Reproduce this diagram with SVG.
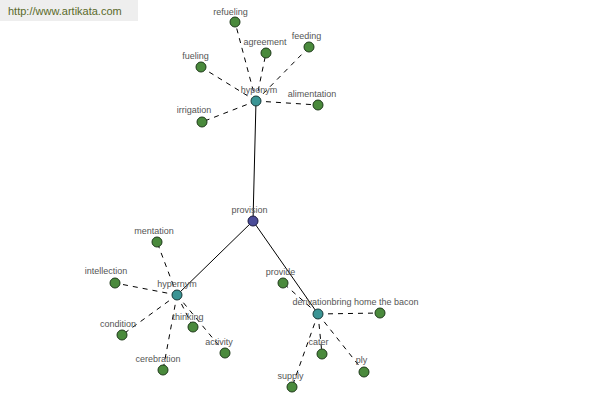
<svg xmlns="http://www.w3.org/2000/svg" width="600" height="400" viewBox="0 0 600 400">
<style>
.lbl{font-family:"Liberation Sans",Arial,sans-serif;font-size:9px;fill:#555;text-anchor:middle}
.leaf{fill:#4a8a3c;stroke:#1e3a1a;stroke-width:1}
.hub{fill:#3a9494;stroke:#1a3a3a;stroke-width:1}
.root{fill:#4a4c98;stroke:#1a1a40;stroke-width:1}
.solid{stroke:#000;stroke-width:1;fill:none}
.dash{stroke:#000;stroke-width:1;fill:none;stroke-dasharray:5 5}
</style>
<rect x="0" y="0" width="138" height="21" fill="#eeeeee"/>
<text x="8" y="15" font-family="'Liberation Sans',Arial,sans-serif" font-size="11" fill="#5a6a2a">http://www.artikata.com</text>
<g id="connectors">
<line class="solid" x1="256" y1="101" x2="253" y2="221"/>
<line class="solid" x1="253" y1="221" x2="177" y2="295"/>
<line class="solid" x1="253" y1="221" x2="318" y2="314"/>
<line class="dash" x1="256" y1="101" x2="235" y2="22"/>
<line class="dash" x1="256" y1="101" x2="266" y2="53"/>
<line class="dash" x1="256" y1="101" x2="309" y2="47"/>
<line class="dash" x1="256" y1="101" x2="201" y2="67"/>
<line class="dash" x1="256" y1="101" x2="318" y2="105"/>
<line class="dash" x1="256" y1="101" x2="202" y2="122"/>
<line class="dash" x1="177" y1="295" x2="157" y2="242"/>
<line class="dash" x1="177" y1="295" x2="115" y2="283"/>
<line class="dash" x1="177" y1="295" x2="122" y2="335"/>
<line class="dash" x1="177" y1="295" x2="193" y2="327"/>
<line class="dash" x1="177" y1="295" x2="225" y2="353"/>
<line class="dash" x1="177" y1="295" x2="163" y2="370"/>
<line class="dash" x1="318" y1="314" x2="283" y2="283"/>
<line class="dash" x1="318" y1="314" x2="380" y2="313"/>
<line class="dash" x1="318" y1="314" x2="322" y2="354"/>
<line class="dash" x1="318" y1="314" x2="364" y2="372"/>
<line class="dash" x1="318" y1="314" x2="292" y2="387"/>
</g>
<g id="n-provision"><circle class="root" cx="253" cy="221" r="5"/><text class="lbl" x="249.5" y="213">provision</text></g>
<g id="n-hyponym"><circle class="hub" cx="256" cy="101" r="5"/><text class="lbl" x="259" y="93">hyponym</text></g>
<g id="n-hypernym"><circle class="hub" cx="177" cy="295" r="5"/><text class="lbl" x="177" y="287">hypernym</text></g>
<g id="n-derivation"><circle class="hub" cx="318" cy="314" r="5"/><text class="lbl" x="312" y="305">derivation</text></g>
<g id="n-refueling"><circle class="leaf" cx="235" cy="22" r="5"/><text class="lbl" x="230.5" y="15">refueling</text></g>
<g id="n-agreement"><circle class="leaf" cx="266" cy="53" r="5"/><text class="lbl" x="265" y="45">agreement</text></g>
<g id="n-feeding"><circle class="leaf" cx="309" cy="47" r="5"/><text class="lbl" x="306.5" y="39">feeding</text></g>
<g id="n-fueling"><circle class="leaf" cx="201" cy="67" r="5"/><text class="lbl" x="195.5" y="59">fueling</text></g>
<g id="n-alimentation"><circle class="leaf" cx="318" cy="105" r="5"/><text class="lbl" x="312" y="97">alimentation</text></g>
<g id="n-irrigation"><circle class="leaf" cx="202" cy="122" r="5"/><text class="lbl" x="194" y="113">irrigation</text></g>
<g id="n-mentation"><circle class="leaf" cx="157" cy="242" r="5"/><text class="lbl" x="154" y="234">mentation</text></g>
<g id="n-intellection"><circle class="leaf" cx="115" cy="283" r="5"/><text class="lbl" x="106" y="274">intellection</text></g>
<g id="n-condition"><circle class="leaf" cx="122" cy="335" r="5"/><text class="lbl" x="118" y="327">condition</text></g>
<g id="n-thinking"><circle class="leaf" cx="193" cy="327" r="5"/><text class="lbl" x="188" y="320">thinking</text></g>
<g id="n-activity"><circle class="leaf" cx="225" cy="353" r="5"/><text class="lbl" x="219" y="345">activity</text></g>
<g id="n-cerebration"><circle class="leaf" cx="163" cy="370" r="5"/><text class="lbl" x="158" y="362">cerebration</text></g>
<g id="n-provide"><circle class="leaf" cx="283" cy="283" r="5"/><text class="lbl" x="280.5" y="275">provide</text></g>
<g id="n-bacon"><circle class="leaf" cx="380" cy="313" r="5"/><text class="lbl" x="375" y="305">bring home the bacon</text></g>
<g id="n-cater"><circle class="leaf" cx="322" cy="354" r="5"/><text class="lbl" x="318.5" y="345">cater</text></g>
<g id="n-ply"><circle class="leaf" cx="364" cy="372" r="5"/><text class="lbl" x="361.5" y="363">ply</text></g>
<g id="n-supply"><circle class="leaf" cx="292" cy="387" r="5"/><text class="lbl" x="290.5" y="379">supply</text></g>
</svg>
